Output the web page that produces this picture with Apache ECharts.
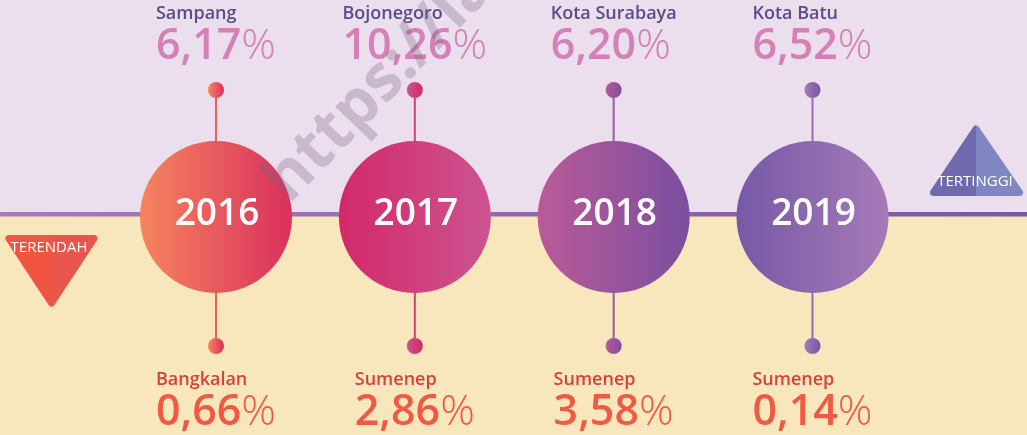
<!DOCTYPE html>
<html lang="id">
<head>
    <meta charset="utf-8">
    <title>Tertinggi dan Terendah 2016-2019</title>
    <script src="https://cdn.jsdelivr.net/npm/echarts@6/dist/echarts.min.js"></script>
    <style>
        html, body { margin: 0; padding: 0; }
        #main { width: 1027px; height: 435px; }
    </style>
</head>
<body>
<div id="main"></div>
<script>
    // data
    var years = ['2016', '2017', '2018', '2019'];
    var highRegion = ['Sampang', 'Bojonegoro', 'Kota Surabaya', 'Kota Batu'];
    var highValue = [6.17, 10.26, 6.20, 6.52];
    var lowRegion = ['Bangkalan', 'Sumenep', 'Sumenep', 'Sumenep'];
    var lowValue = [0.66, 2.86, 3.58, 0.14];

    // colours per year
    var circleFrom = ['#f5845e', '#d3296a', '#ba5a98', '#7659a6'];
    var circleTo = ['#da305d', '#cc5490', '#7a4fa0', '#a67ab8'];
    var dotFrom = ['#f5885e', '#cc5490', '#b85a98', '#a77bb8'];
    var dotTo = ['#da2f5e', '#d42a63', '#7b4fa0', '#7455a5'];
    var stemColor = ['#e9605a', '#d3406f', '#9a5aa8', '#9a6ab0'];

    var FONT = '"Open Sans", sans-serif';
    var topDotY = 90, circleY = 217, bottomDotY = 346;

    function fmt(v) {
        return v.toFixed(2).replace('.', ',');
    }
    function hgrad(a, b) {
        return new echarts.graphic.LinearGradient(0, 0, 1, 0, [
            {offset: 0, color: a}, {offset: 1, color: b}
        ]);
    }
    function split(a, b) {
        return new echarts.graphic.LinearGradient(0, 0, 1, 0, [
            {offset: 0, color: a}, {offset: 0.5, color: a},
            {offset: 0.5, color: b}, {offset: 1, color: b}
        ]);
    }
    function richFor(nameColor, valColor) {
        return {
            n: {align: 'left', fontSize: 18, fontWeight: 600, fontFamily: FONT, fill: nameColor, lineHeight: 22},
            v: {align: 'left', fontSize: 43, fontWeight: 600, fontFamily: FONT, fill: valColor, lineHeight: 44},
            p: {align: 'left', fontSize: 43, fontWeight: 300, fontFamily: FONT, fill: valColor, lineHeight: 44}
        };
    }

    var chart = echarts.init(document.getElementById('main'));

    chart.setOption({
        animation: false,
        grid: {left: 216, right: 214.5, top: 0, bottom: 0},
        xAxis: {type: 'category', data: years, boundaryGap: false, show: false},
        yAxis: {type: 'value', min: 0, max: 435, inverse: true, show: false},
        graphic: [
            {type: 'rect', z: -10, shape: {x: 0, y: 0, width: 1027, height: 214}, style: {fill: '#ebdfee'}},
            {type: 'rect', z: -10, shape: {x: 0, y: 214, width: 1027, height: 221}, style: {fill: '#f8e6bd'}},
            {type: 'rect', z: -5, shape: {x: 0, y: 212, width: 1027, height: 4.5},
                style: {fill: hgrad('#a77bb8', '#7a56a3')}},
            // terendah
            {type: 'polygon', z: 5, shape: {points: [[9, 238.5], [94, 238.5], [51.5, 303]]},
                style: {fill: split('#f05542', '#e7554c'), stroke: split('#f05542', '#e7554c'), lineWidth: 7, lineJoin: 'round'}},
            {type: 'text', z: 6, style: {text: 'TERENDAH', x: 49, y: 248, align: 'center', verticalAlign: 'middle',
                fill: '#fff', font: '15px ' + FONT}},
            // tertinggi
            {type: 'polygon', z: 5, shape: {points: [[976, 129], [1019.5, 192.5], [933.5, 192.5]]},
                style: {fill: split('#6e6aad', '#7f86c2'), stroke: split('#6e6aad', '#7f86c2'), lineWidth: 7, lineJoin: 'round'}},
            {type: 'text', z: 6, style: {text: 'TERTINGGI', x: 975, y: 182, align: 'center', verticalAlign: 'middle',
                fill: '#fff', font: '15px ' + FONT}},
            // watermark
            {type: 'text', z: 100, x: 276, y: 192, rotation: 46 * Math.PI / 180,
                style: {text: 'https://la', align: 'left', verticalAlign: 'middle',
                    fill: 'rgba(120,100,125,0.3)', font: 'bold 64px ' + FONT}}
        ],
        series: [{
            type: 'custom',
            data: years.map(function (y, i) { return [i]; }),
            renderItem: function (params, api) {
                var i = params.dataIndex;
                var t = api.coord([i, topDotY]);
                var c = api.coord([i, circleY]);
                var b = api.coord([i, bottomDotY]);
                return {
                    type: 'group',
                    children: [
                        {type: 'line', shape: {x1: t[0], y1: t[1], x2: b[0], y2: b[1]},
                            style: {stroke: stemColor[i], lineWidth: 2}},
                        {type: 'circle', shape: {cx: t[0], cy: t[1], r: 8}, style: {fill: hgrad(dotFrom[i], dotTo[i])}},
                        {type: 'circle', shape: {cx: b[0], cy: b[1], r: 8}, style: {fill: hgrad(dotFrom[i], dotTo[i])}},
                        {type: 'circle', shape: {cx: c[0], cy: c[1], r: 76}, style: {fill: hgrad(circleFrom[i], circleTo[i])}},
                        {type: 'text', style: {text: years[i], x: c[0] + 1, y: c[1] - 3, align: 'center', verticalAlign: 'middle',
                            fill: '#fff', font: '600 37px ' + FONT}},
                        {type: 'text', style: {
                            text: '{n|' + highRegion[i] + '}\n{v|' + fmt(highValue[i]) + '}{p|%}',
                            x: c[0], y: 2.5, align: 'center', verticalAlign: 'top',
                            rich: richFor('#5a4b8b', '#d580b6')}},
                        {type: 'text', style: {
                            text: '{n|' + lowRegion[i] + '}\n{v|' + fmt(lowValue[i]) + '}{p|%}',
                            x: c[0], y: 369, align: 'center', verticalAlign: 'top',
                            rich: richFor('#d8413a', '#f05a42')}}
                    ]
                };
            }
        }]
    });
</script>
</body>
</html>
